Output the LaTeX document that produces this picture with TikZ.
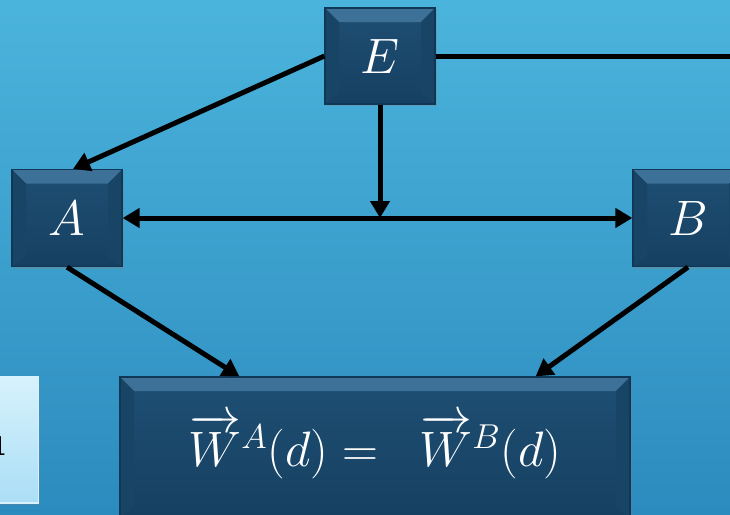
\documentclass[tikz,border=0pt]{standalone}
\usepackage{amsmath}
\usepackage{tikz}
\usetikzlibrary{arrows.meta,positioning,calc,shadows}
\definecolor{skytop}{RGB}{75,180,220}
\definecolor{skybot}{RGB}{44,139,190}
\definecolor{navyface}{RGB}{30,79,116}
\definecolor{navylow}{RGB}{22,64,97}
\definecolor{navytop}{RGB}{62,113,151}
\definecolor{navyside}{RGB}{24,68,102}
\definecolor{navyline}{RGB}{16,56,86}
\definecolor{paleface}{RGB}{170,222,246}
\definecolor{paletop}{RGB}{215,242,252}

\begin{document}
\begin{tikzpicture}[x=0.5pt, y=-0.5pt,
    panel/.style={draw=navyline, line width=0.6pt, top color=navyface, bottom color=navylow, inner sep=0pt,
                  text=white, font=\fontsize{23}{28}\selectfont,
                  drop shadow={opacity=0.35, shadow xshift=0.8pt, shadow yshift=-1.2pt},
                  path picture={
                    \fill[navytop] (path picture bounding box.north west) -- (path picture bounding box.north east)
                      -- ([xshift=-7pt,yshift=-7pt]path picture bounding box.north east)
                      -- ([xshift=7pt,yshift=-7pt]path picture bounding box.north west) -- cycle;
                    \fill[navyside] (path picture bounding box.north west) -- ([xshift=7pt,yshift=-7pt]path picture bounding box.north west)
                      -- ([xshift=7pt,yshift=5pt]path picture bounding box.south west)
                      -- (path picture bounding box.south west) -- cycle;
                    \fill[navyside] (path picture bounding box.north east) -- ([xshift=-7pt,yshift=-7pt]path picture bounding box.north east)
                      -- ([xshift=-7pt,yshift=5pt]path picture bounding box.south east)
                      -- (path picture bounding box.south east) -- cycle;
                  }},
    palebox/.style={draw=paletop, line width=0.6pt, inner sep=0pt,
                  top color=paletop, bottom color=paleface,
                  drop shadow={opacity=0.3, shadow xshift=0.8pt, shadow yshift=-1.2pt}},
    link/.style={line width=2.5pt, black},
    arr/.style={link, -{Triangle[length=8.5pt, width=9.5pt]}},
    darr/.style={link, {Triangle[length=8.5pt, width=9.5pt]}-{Triangle[length=8.5pt, width=9.5pt]}}
]
\clip (0,0) rectangle (730,515);
\shade[top color=skytop, bottom color=skybot] (0,0) rectangle (730,515);

% boxes
\node[panel, minimum width=55pt, minimum height=48pt] (E) at (380,56) {$E$};
\node[panel, minimum width=55pt, minimum height=48.5pt] (A) at (67,218) {$A$};
\node[panel, minimum width=55pt, minimum height=48.5pt] (B) at (688,218) {$B$};
\node[panel, minimum width=255pt, minimum height=70pt, font=\fontsize{25}{30}\selectfont] (W) at (375,447)
    {$\overrightarrow{W}^{A}(d) = \;\; \overrightarrow{W}^{B}(d)$};
\node[palebox, minimum width=50pt, minimum height=63pt, anchor=east] (note) at (39,440) {};
\node[anchor=east, inner sep=0pt, font=\sffamily\fontsize{14}{16}\selectfont] (notetxt) at (7,446) {1};

% connectors
\coordinate (exit) at (740,56);
\draw[arr] (E.west) -- ([xshift=3pt]A.north);
\draw[link] (E.east) -- (exit);
\draw[arr] (E.south) -- (E.south |- A.east);
\draw[darr] (A.east) -- (B.west);
\draw[arr] (A.south) -- ([xshift=60pt]W.north west);
\draw[arr] (B.south) -- ([xshift=-47.5pt]W.north east);
\end{tikzpicture}
\end{document}
